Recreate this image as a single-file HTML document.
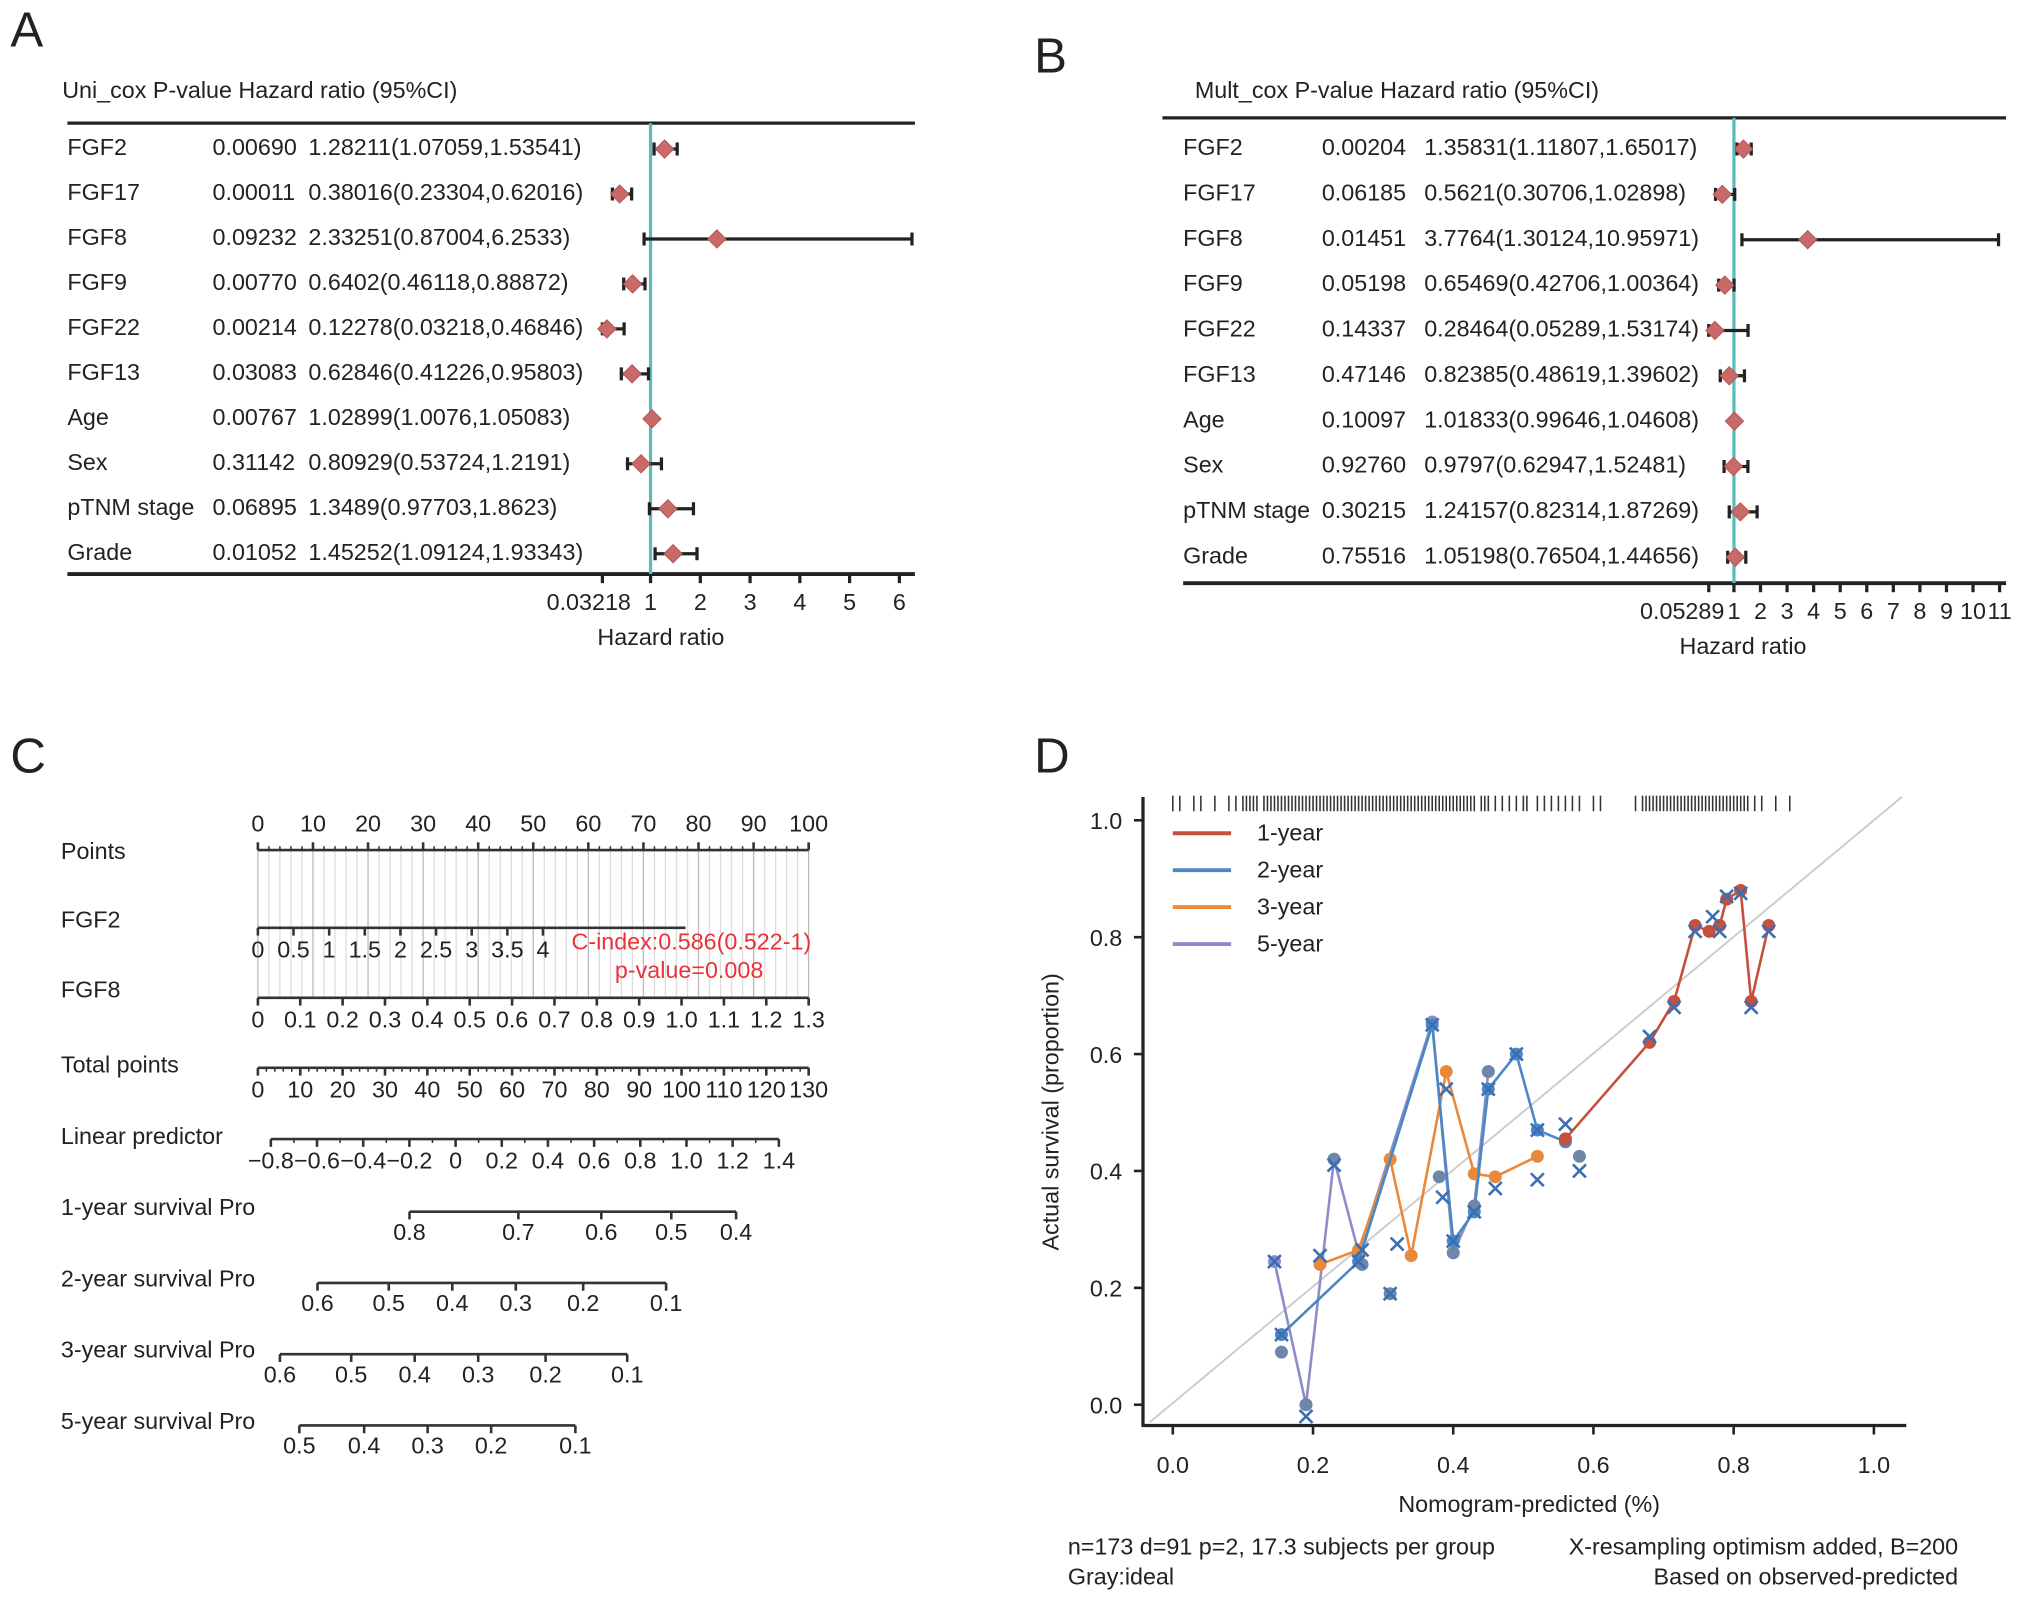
<!DOCTYPE html>
<html><head><meta charset="utf-8"><style>
html,body{margin:0;padding:0;background:#fff}
svg{display:block}
text{font-family:"Liberation Sans",Arial,sans-serif;fill:#222}
</style></head><body>
<svg id="fig" xmlns="http://www.w3.org/2000/svg" width="2032" height="1603" viewBox="0 0 1568 1237" preserveAspectRatio="none">
<rect width="1568" height="1237" fill="#fff"/>
<g>
<text x="8" y="36" style="font-size:38px">A</text>
<text x="798" y="56" style="font-size:38px">B</text>
<text x="8" y="596" style="font-size:38px">C</text>
<text x="798" y="596" style="font-size:38px">D</text>
</g>
<g id="pa"></g>
<g id="pb"></g>
<g id="pc"></g>
<g id="pd"></g>
</svg>
<script>
const NS="http://www.w3.org/2000/svg";
const FS=18;
// ---- Forest A data ----
const uniNames=["FGF2","FGF17","FGF8","FGF9","FGF22","FGF13","Age","Sex","pTNM stage","Grade"];
const uniP=["0.00690","0.00011","0.09232","0.00770","0.00214","0.03083","0.00767","0.31142","0.06895","0.01052"];
const uniHRText=["1.28211(1.07059,1.53541)","0.38016(0.23304,0.62016)","2.33251(0.87004,6.2533)","0.6402(0.46118,0.88872)","0.12278(0.03218,0.46846)","0.62846(0.41226,0.95803)","1.02899(1.0076,1.05083)","0.80929(0.53724,1.2191)","1.3489(0.97703,1.8623)","1.45252(1.09124,1.93343)"];
const uniHR=[1.28211,0.38016,2.33251,0.6402,0.12278,0.62846,1.02899,0.80929,1.3489,1.45252];
const uniLo=[1.07059,0.23304,0.87004,0.46118,0.03218,0.41226,1.0076,0.53724,0.97703,1.09124];
const uniHi=[1.53541,0.62016,6.2533,0.88872,0.46846,0.95803,1.05083,1.2191,1.8623,1.93343];
const uniTicks=[0.03218,1,2,3,4,5,6];
const uniTickLabels=["0.03218","1","2","3","4","5","6"];
// ---- Forest B data ----
const mulNames=["FGF2","FGF17","FGF8","FGF9","FGF22","FGF13","Age","Sex","pTNM stage","Grade"];
const mulP=["0.00204","0.06185","0.01451","0.05198","0.14337","0.47146","0.10097","0.92760","0.30215","0.75516"];
const mulHRText=["1.35831(1.11807,1.65017)","0.5621(0.30706,1.02898)","3.7764(1.30124,10.95971)","0.65469(0.42706,1.00364)","0.28464(0.05289,1.53174)","0.82385(0.48619,1.39602)","1.01833(0.99646,1.04608)","0.9797(0.62947,1.52481)","1.24157(0.82314,1.87269)","1.05198(0.76504,1.44656)"];
const mulHR=[1.35831,0.5621,3.7764,0.65469,0.28464,0.82385,1.01833,0.9797,1.24157,1.05198];
const mulLo=[1.11807,0.30706,1.30124,0.42706,0.05289,0.48619,0.99646,0.62947,0.82314,0.76504];
const mulHi=[1.65017,1.02898,10.95971,1.00364,1.53174,1.39602,1.04608,1.52481,1.87269,1.44656];
const mulTicks=[0.05289,1,2,3,4,5,6,7,8,9,10,11];
const mulTickLabels=["0.05289","1","2","3","4","5","6","7","8","9","10","11"];
// ---- Calibration data ----
const cal1X=[0.56,0.68,0.715,0.745,0.765,0.78,0.79,0.81,0.825,0.85];
const cal1Y=[0.455,0.62,0.69,0.82,0.81,0.82,0.865,0.88,0.69,0.82];
const cal2X=[0.155,0.265,0.37,0.40,0.43,0.45,0.49,0.52,0.56];
const cal2Y=[0.12,0.245,0.65,0.28,0.33,0.54,0.60,0.47,0.45];
const cal3X=[0.21,0.265,0.31,0.34,0.39,0.43,0.46,0.52];
const cal3Y=[0.24,0.265,0.42,0.255,0.57,0.395,0.39,0.425];
const cal5X=[0.145,0.19,0.23,0.265,0.37,0.40,0.43,0.45];
const cal5Y=[0.245,0.0,0.42,0.26,0.655,0.26,0.34,0.57];
const calXmarkX=[0.145,0.155,0.19,0.21,0.23,0.265,0.27,0.31,0.32,0.37,0.385,0.39,0.40,0.43,0.45,0.46,0.49,0.52,0.52,0.56,0.58,0.68,0.715,0.745,0.77,0.78,0.79,0.81,0.825,0.85];
const calXmarkY=[0.245,0.12,-0.02,0.255,0.41,0.245,0.265,0.19,0.275,0.65,0.355,0.54,0.28,0.33,0.54,0.37,0.6,0.47,0.385,0.48,0.40,0.63,0.68,0.81,0.835,0.81,0.87,0.875,0.68,0.81];
const calDotX=[0.155,0.19,0.23,0.27,0.31,0.38,0.40,0.43,0.45,0.58];
const calDotY=[0.09,0.0,0.42,0.24,0.19,0.39,0.26,0.34,0.57,0.425];
const rugVals=[0.0,0.01,0.03,0.04,0.06,0.08,0.09,0.1,0.105,0.11,0.115,0.12,0.13,0.135,0.14,0.145,0.15,0.155,0.16,0.165,0.17,0.175,0.18,0.185,0.19,0.195,0.2,0.205,0.21,0.215,0.22,0.225,0.23,0.235,0.24,0.245,0.25,0.255,0.26,0.265,0.27,0.275,0.28,0.285,0.29,0.295,0.3,0.305,0.31,0.315,0.32,0.325,0.33,0.335,0.34,0.345,0.35,0.355,0.36,0.365,0.37,0.375,0.38,0.385,0.39,0.395,0.4,0.405,0.41,0.415,0.42,0.425,0.43,0.44,0.445,0.45,0.46,0.47,0.48,0.49,0.5,0.505,0.52,0.53,0.54,0.55,0.56,0.57,0.58,0.6,0.61,0.66,0.67,0.675,0.68,0.685,0.69,0.695,0.7,0.705,0.71,0.715,0.72,0.725,0.73,0.735,0.74,0.745,0.75,0.755,0.76,0.765,0.77,0.775,0.78,0.785,0.79,0.795,0.8,0.805,0.81,0.815,0.82,0.83,0.84,0.86,0.88];
const calTicks=[0,0.2,0.4,0.6,0.8,1.0];
const calTickLabels=["0.0","0.2","0.4","0.6","0.8","1.0"];

function el(tag,attrs,parent,txt){const e=document.createElementNS(NS,tag);for(const k in attrs)e.setAttribute(k,attrs[k]);if(txt!==undefined)e.textContent=txt;parent.appendChild(e);return e;}

function forest(g,cfg){
  const sx=v=>cfg.x1+(v-1)*cfg.unit;
  const t=el('text',{x:cfg.hx,y:cfg.hy,'font-size':FS,'dominant-baseline':'middle'},g,cfg.header);
  
  
  const tl=el('line',{x1:cfg.lx0,x2:cfg.lx1,y1:cfg.top,y2:cfg.top,stroke:'#222','stroke-width':2.5},g);
  
  
  const bl=el('line',{x1:cfg.bx0,x2:cfg.lx1,y1:cfg.bot,y2:cfg.bot,stroke:'#222','stroke-width':3},g);
  
  
  const ref=el('line',{x1:sx(1),x2:sx(1),y1:cfg.top,y2:cfg.bot,stroke:'#5bbcbc','stroke-width':2.5},g);
  
  
  cfg.names.forEach((n,i)=>{
    const y=cfg.r0+i*cfg.dr;
    const a=el('text',{x:cfg.nx,y:y,'font-size':FS,'dominant-baseline':'middle'},g,n);
    
    
    const b=el('text',{x:cfg.px,y:y,'font-size':FS,'dominant-baseline':'middle'},g,cfg.p[i]);
    
    
    const c=el('text',{x:cfg.tx,y:y,'font-size':FS,'dominant-baseline':'middle'},g,cfg.hrt[i]);
    
    
    const x0=sx(cfg.lo[i]),x1=sx(cfg.hi[i]),xm=sx(cfg.hr[i]);
    const ci=el('path',{d:`M${x0},${y}H${x1}M${x0},${y-5}V${y+5}M${x1},${y-5}V${y+5}`,stroke:'#222','stroke-width':2.5,fill:'none'},g);
    
    
    const d=el('path',{d:`M${xm-7},${y}L${xm},${y-7}L${xm+7},${y}L${xm},${y+7}Z`,fill:'#c86a6a',stroke:'#b85555','stroke-width':0.8},g);
    
    
  });
  cfg.ticks.forEach((v,i)=>{
    const x=sx(v);
    const tk=el('line',{x1:x,x2:x,y1:cfg.bot,y2:cfg.bot+7,stroke:'#222','stroke-width':2.5},g);
    
    
    const anchor=i===0?'end':'middle';
    const lx=i===0?x+(cfg.firstOff||0):x;
    const tt=el('text',{x:lx,y:cfg.bot+23,'font-size':FS,'text-anchor':anchor,'dominant-baseline':'middle'},g,cfg.tl[i]);
    
    
  });
  const xt=el('text',{x:cfg.xtx,y:cfg.bot+50,'font-size':FS,'text-anchor':'middle','dominant-baseline':'middle'},g,'Hazard ratio');
  
  
}
forest(document.getElementById('pa'),{header:'Uni_cox P-value Hazard ratio (95%CI)',hx:48,hy:71,lx0:52,lx1:706,bx0:52,top:95,bot:443,x1:502,unit:38.4,
  names:uniNames,p:uniP,hrt:uniHRText,hr:uniHR,lo:uniLo,hi:uniHi,r0:115,dr:34.7,nx:52,px:164,tx:238,ticks:uniTicks,tl:uniTickLabels,xtx:510,firstOff:22});
forest(document.getElementById('pb'),{header:'Mult_cox P-value Hazard ratio (95%CI)',hx:922,hy:71,lx0:897,lx1:1548,bx0:913,top:91,bot:450,x1:1338,unit:20.5,
  names:mulNames,p:mulP,hrt:mulHRText,hr:mulHR,lo:mulLo,hi:mulHi,r0:115,dr:35,nx:913,px:1020,tx:1099,ticks:mulTicks,tl:mulTickLabels,xtx:1345,firstOff:12});

// ---- Nomogram ----
(function(){
  const g=document.getElementById('pc');
  const P0=199,P1=624;
  const rowLabels=["Points","FGF2","FGF8","Total points","Linear predictor","1-year survival Pro","2-year survival Pro","3-year survival Pro","5-year survival Pro"];
  const rowLabelY=[658,711,765,823,878,933,988,1043,1098];
  rowLabels.forEach((s,i)=>{
    const t=el('text',{x:47,y:rowLabelY[i],'font-size':FS,'dominant-baseline':'middle'},g,s);
    
    
  });
  for(let v=0;v<=100;v+=2){const x=P0+(P1-P0)*v/100;
    const l=el('line',{x1:x,x2:x,y1:656,y2:770,stroke:v%10===0?'#bbb':'#ddd','stroke-width':1},g);
    
    }
  function scale(y,xa,xb,va,vb,ticks,labels,minor,labelBelow,tickUp){
    const f=v=>xa+(v-va)*(xb-xa)/(vb-va);
    const ln=el('line',{x1:f(va),x2:f(vb),y1:y,y2:y,stroke:'#333','stroke-width':2},g);
    
    
    (minor||[]).forEach(v=>{const x=f(v);
      const m=el('line',{x1:x,x2:x,y1:y,y2:y+(tickUp?-3:3),stroke:'#333','stroke-width':1.2},g);
      
      });
    ticks.forEach((v,i)=>{const x=f(v);
      const tk=el('line',{x1:x,x2:x,y1:y,y2:y+(tickUp?-6:6),stroke:'#333','stroke-width':2},g);
      
      
      const tt=el('text',{x:x,y:labelBelow?y+18:y-19,'font-size':FS,'text-anchor':'middle','dominant-baseline':'middle'},g,labels[i]);
      
      });
  }
  const r=(a,b,s)=>{const o=[];for(let v=a;v<=b+1e-9;v+=s)o.push(+v.toFixed(4));return o;};
  scale(656,P0,P1,0,100,r(0,100,10),r(0,100,10).map(String),r(0,100,2),false,true);
  scale(716,P0,P0+55*6,0,6,r(0,4,0.5),["0","0.5","1","1.5","2","2.5","3","3.5","4"],[],true,false);
  scale(770,P0,P1,0,1.3,r(0,1.3,0.1),["0","0.1","0.2","0.3","0.4","0.5","0.6","0.7","0.8","0.9","1.0","1.1","1.2","1.3"],[],true,false);
  scale(824,P0,P1,0,130,r(0,130,10),r(0,130,10).map(String),r(0,130,2),true,false);
  scale(879,209,601,-0.8,1.4,r(-0.8,1.4,0.2),["\u22120.8","\u22120.6","\u22120.4","\u22120.2","0","0.2","0.4","0.6","0.8","1.0","1.2","1.4"],r(-0.8,1.4,0.1),true,false);
  function surv(y,vals,xs){
    const ln=el('line',{x1:xs[0],x2:xs[xs.length-1],y1:y,y2:y,stroke:'#333','stroke-width':2},g);
    
    
    vals.forEach((v,i)=>{
      const tk=el('line',{x1:xs[i],x2:xs[i],y1:y,y2:y+6,stroke:'#333','stroke-width':2},g);
      
      
      const tt=el('text',{x:xs[i],y:y+17,'font-size':FS,'text-anchor':'middle','dominant-baseline':'middle'},g,v);
      
      });
  }
  surv(935,["0.8","0.7","0.6","0.5","0.4"],[316,400,464,518,568]);
  surv(990,["0.6","0.5","0.4","0.3","0.2","0.1"],[245,300,349,398,450,514]);
  surv(1045,["0.6","0.5","0.4","0.3","0.2","0.1"],[216,271,320,369,421,484]);
  surv(1100,["0.5","0.4","0.3","0.2","0.1"],[231,281,330,379,444]);
  const c1=el('text',{x:626,y:728,'font-size':FS,'text-anchor':'end','dominant-baseline':'middle',style:'fill:#e8333a'},g,'C-index:0.586(0.522-1)');
  
  
  const c2=el('text',{x:589,y:750,'font-size':FS,'text-anchor':'end','dominant-baseline':'middle',style:'fill:#e8333a'},g,'p-value=0.008');
  
  
})();

// ---- Calibration ----
(function(){
  const g=document.getElementById('pd');
  const X0=905,XU=541,Y0=1084,YU=451;
  const sx=v=>X0+v*XU, sy=v=>Y0-v*YU;
  const id=el('line',{x1:sx(-0.033),y1:sy(-0.03),x2:sx(1.04),y2:sy(1.04),stroke:'#ccc','stroke-width':1.5},g);
  
  
  const ya=el('line',{x1:882,x2:882,y1:615,y2:1101,stroke:'#222','stroke-width':2.5},g);
  
  
  const xa=el('line',{x1:881,x2:1471,y1:1100,y2:1100,stroke:'#222','stroke-width':2.5},g);
  
  
  calTicks.forEach((v,i)=>{
    const t1=el('line',{x1:sx(v),x2:sx(v),y1:1100,y2:1107,stroke:'#222','stroke-width':2},g);
    
    
    const l1=el('text',{x:sx(v),y:1132,'font-size':FS,'text-anchor':'middle','dominant-baseline':'middle'},g,calTickLabels[i]);
    
    
    const t2=el('line',{x1:875,x2:882,y1:sy(v),y2:sy(v),stroke:'#222','stroke-width':2},g);
    
    
    const l2=el('text',{x:866,y:sy(v)+2,'font-size':FS,'text-anchor':'end','dominant-baseline':'middle'},g,calTickLabels[i]);
    
    
  });
  rugVals.forEach(v=>{
    const r=el('line',{x1:sx(v),x2:sx(v),y1:614,y2:626,stroke:'#333','stroke-width':1.2},g);
    
    
  });
  const series=[[cal5X,cal5Y,'#8e8cc8'],[cal3X,cal3Y,'#e8893c'],[cal2X,cal2Y,'#4a88c4'],[cal1X,cal1Y,'#c5503d']];
  const names=['series-5-year','series-3-year','series-2-year','series-1-year'];
  series.forEach((s,k)=>{
    const pts=s[0].map((x,i)=>sx(x)+','+sy(s[1][i])).join(' ');
    const pl=el('polyline',{points:pts,fill:'none',stroke:s[2],'stroke-width':2},g);
    
    
    s[0].forEach((x,i)=>{
      const c=el('circle',{cx:sx(x),cy:sy(s[1][i]),r:5,fill:s[2]},g);
      
      
    });
  });
  calDotX.forEach((x,i)=>{
    const c=el('circle',{cx:sx(x),cy:sy(calDotY[i]),r:5,fill:'#6f86a8'},g);
    
    
  });
  calXmarkX.forEach((x,i)=>{
    const cx=sx(x),cy=sy(calXmarkY[i]);
    const m=el('path',{d:`M${cx-5},${cy-5}L${cx+5},${cy+5}M${cx+5},${cy-5}L${cx-5},${cy+5}`,stroke:'#3a6fb5','stroke-width':2},g);
    
    
  });
  const leg=[['1-year','#c5503d'],['2-year','#4a88c4'],['3-year','#e8893c'],['5-year','#8e8cc8']];
  leg.forEach((l,i)=>{
    const y=643+i*28.5;
    const ll=el('line',{x1:905,x2:950,y1:y,y2:y,stroke:l[1],'stroke-width':3},g);
    
    
    const lt=el('text',{x:970,y:y+1,'font-size':FS,'dominant-baseline':'middle'},g,l[0]);
    
    
  });
  const yt=el('text',{x:0,y:0,'font-size':FS,'text-anchor':'middle','dominant-baseline':'middle',transform:'translate(812,858) rotate(-90)'},g,'Actual survival (proportion)');
  
  
  const xt=el('text',{x:1180,y:1162,'font-size':FS,'text-anchor':'middle','dominant-baseline':'middle'},g,'Nomogram-predicted (%)');
  
  
  const f=[[824,1195,'start','n=173 d=91 p=2, 17.3 subjects per group'],[824,1218,'start','Gray:ideal'],[1511,1195,'end','X-resampling optimism added, B=200'],[1511,1218,'end','Based on observed-predicted']];
  f.forEach(a=>{
    const t=el('text',{x:a[0],y:a[1],'font-size':FS,'text-anchor':a[2],'dominant-baseline':'middle'},g,a[3]);
    
    
  });
})();
</script>
</body></html>
